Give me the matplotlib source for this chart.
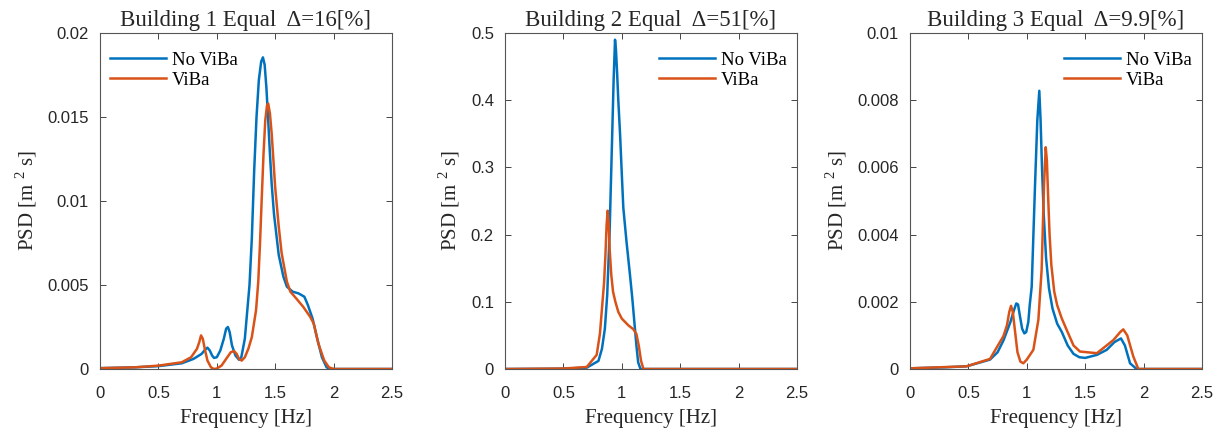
import matplotlib
matplotlib.use("Agg")
import matplotlib.pyplot as plt

# Building 1
b1_f_noviba = [0.0, 0.3, 0.5, 0.7, 0.8, 0.87, 0.9, 0.92, 0.94, 0.96, 0.976, 1.0, 1.03, 1.06,
               1.08, 1.095, 1.11, 1.13, 1.16, 1.19, 1.21, 1.24, 1.28, 1.30, 1.32, 1.34, 1.36,
               1.38, 1.395, 1.41, 1.425, 1.44, 1.455, 1.47, 1.49, 1.53, 1.57, 1.6, 1.65,
               1.7, 1.75, 1.78, 1.82, 1.86, 1.9, 1.94, 1.97, 2.5]
b1_psd_noviba = [0.00005, 0.0001, 0.00017, 0.00034, 0.0006, 0.0009, 0.00115, 0.00127, 0.0011,
                 0.0008, 0.00066, 0.0007, 0.0011, 0.0018, 0.0024, 0.0025, 0.0022, 0.0014,
                 0.0008, 0.00055, 0.0007, 0.0018, 0.005, 0.0078, 0.0118, 0.015, 0.0172,
                 0.0183, 0.01855, 0.0181, 0.0167, 0.0148, 0.0128, 0.011, 0.0092, 0.0068,
                 0.0055, 0.0049, 0.0046, 0.0045, 0.0043, 0.0038, 0.003, 0.0018, 0.0007,
                 0.0001, 0.0, 0.0]
b1_f_viba = [0.0, 0.3, 0.5, 0.7, 0.78, 0.83, 0.85, 0.865, 0.88, 0.9, 0.92, 0.95, 0.976, 1.0,
             1.04, 1.08, 1.12, 1.147, 1.17, 1.19, 1.213, 1.24, 1.27, 1.3, 1.336, 1.355, 1.37,
             1.385, 1.40, 1.415, 1.43, 1.44, 1.455, 1.47, 1.485, 1.50, 1.53, 1.555, 1.6,
             1.63, 1.68, 1.74, 1.8, 1.83, 1.87, 1.92, 1.96, 2.0, 2.5]
b1_psd_viba = [0.00005, 0.0001, 0.0002, 0.0004, 0.0007, 0.0012, 0.0016, 0.002, 0.0018, 0.0011,
               0.0005, 0.0001, 0.0, 0.00003, 0.0002, 0.0006, 0.001, 0.00107, 0.0009, 0.0006,
               0.0005, 0.0007, 0.0012, 0.0019, 0.0035, 0.0052, 0.0075, 0.0102, 0.0128,
               0.0148, 0.0157, 0.0158, 0.0152, 0.014, 0.0124, 0.0108, 0.0085, 0.0069,
               0.0052, 0.0046, 0.0042, 0.0037, 0.0031, 0.0027, 0.0015, 0.0005, 0.0001, 0.0,
               0.0]

# Building 2
b2_f_noviba = [0.0, 0.5, 0.7, 0.8, 0.83, 0.855, 0.875, 0.895, 0.915, 0.93, 0.942, 0.95, 0.96,
               0.97, 0.985, 1.0, 1.013, 1.04, 1.07, 1.09, 1.11, 1.125, 1.14, 1.16, 2.5]
b2_psd_noviba = [0.0, 0.0005, 0.002, 0.012, 0.03, 0.06, 0.11, 0.2, 0.33, 0.43, 0.49, 0.475,
                 0.44, 0.40, 0.35, 0.29, 0.24, 0.19, 0.14, 0.105, 0.065, 0.035, 0.01, 0.0,
                 0.0]
b2_f_viba = [0.0, 0.5, 0.7, 0.785, 0.813, 0.848, 0.86, 0.87, 0.879, 0.888, 0.897, 0.91, 0.925,
             0.945, 0.97, 1.0, 1.056, 1.1, 1.125, 1.145, 1.165, 1.185, 2.5]
b2_psd_viba = [0.0, 0.0007, 0.003, 0.021, 0.053, 0.128, 0.17, 0.215, 0.2356, 0.215, 0.175,
               0.14, 0.115, 0.1, 0.085, 0.075, 0.065, 0.059, 0.052, 0.035, 0.012, 0.0, 0.0]

# Building 3
b3_f_noviba = [0.0, 0.3, 0.485, 0.685, 0.75, 0.8, 0.86, 0.89, 0.91, 0.925, 0.94, 0.96, 0.979,
               0.995, 1.013, 1.025, 1.042, 1.07, 1.09, 1.107, 1.118, 1.13, 1.145, 1.165, 1.19,
               1.22, 1.26, 1.3, 1.35, 1.4, 1.45, 1.5, 1.6, 1.684, 1.75, 1.806, 1.84, 1.884,
               1.94, 2.5]
b3_psd_noviba = [0.00002, 0.00005, 0.00008, 0.00028, 0.0005, 0.00085, 0.0014, 0.00175,
                 0.00195, 0.00192, 0.0016, 0.0012, 0.00106, 0.0011, 0.0014, 0.0019, 0.00245,
                 0.00543, 0.0074, 0.00828, 0.0074, 0.006, 0.0046, 0.0033, 0.0024, 0.0018,
                 0.00135, 0.0011, 0.0007, 0.00045, 0.00035, 0.00033, 0.00042, 0.00057,
                 0.0008, 0.00091, 0.0007, 0.00017, 0.0, 0.0]
b3_f_viba = [0.0, 0.485, 0.685, 0.8, 0.83, 0.85, 0.865, 0.88, 0.9, 0.92, 0.945, 0.97, 1.0,
             1.056, 1.099, 1.127, 1.147, 1.162, 1.172, 1.182, 1.195, 1.21, 1.235, 1.26, 1.3,
             1.342, 1.4, 1.455, 1.6, 1.741, 1.8, 1.826, 1.86, 1.912, 1.955, 2.5]
b3_psd_viba = [0.00002, 0.00008, 0.0003, 0.00098, 0.0013, 0.0017, 0.00188, 0.0017, 0.0011,
               0.0005, 0.00022, 0.00017, 0.00028, 0.00057, 0.00146, 0.00295, 0.00543,
               0.0066, 0.0062, 0.0052, 0.004, 0.0031, 0.0023, 0.0019, 0.0015, 0.00116,
               0.0007, 0.00052, 0.00047, 0.00086, 0.0011, 0.00118, 0.001, 0.00037, 0.0,
               0.0]

titles = ["Building 1 Equal  \u0394=16[%]", "Building 2 Equal  \u0394=51[%]",
          "Building 3 Equal  \u0394=9.9[%]"]
y_max = [0.02, 0.5, 0.01]
y_ticks = [[0, 0.005, 0.01, 0.015, 0.02],
           [0, 0.1, 0.2, 0.3, 0.4, 0.5],
           [0, 0.002, 0.004, 0.006, 0.008, 0.01]]
y_ticklabels = [["0", "0.005", "0.01", "0.015", "0.02"],
                ["0", "0.1", "0.2", "0.3", "0.4", "0.5"],
                ["0", "0.002", "0.004", "0.006", "0.008", "0.01"]]
x_ticks = [0, 0.5, 1, 1.5, 2, 2.5]
x_ticklabels = ["0", "0.5", "1", "1.5", "2", "2.5"]
legend_loc = ["upper left", "upper right", "upper right"]
legend_anchor = [(0.009, 0.966), (0.991, 0.966), (0.991, 0.966)]

series = [
    (b1_f_noviba, b1_psd_noviba, b1_f_viba, b1_psd_viba),
    (b2_f_noviba, b2_psd_noviba, b2_f_viba, b2_psd_viba),
    (b3_f_noviba, b3_psd_noviba, b3_f_viba, b3_psd_viba),
]

BLUE = "#0072BD"
ORANGE = "#D95319"
SERIF = "Liberation Serif"
SANS = "Liberation Sans"
AX_COLOR = "#262626"

fig = plt.figure(figsize=(12.25, 4.37), dpi=100)
lefts = [100 / 1225, 505 / 1225, 910 / 1225]

for i in range(3):
    ax = fig.add_axes([lefts[i], 68 / 437, 292 / 1225, 336 / 437])
    f0, p0, f1, p1 = series[i]
    ax.plot(f0, p0, color=BLUE, lw=1.8, label="No ViBa")
    ax.plot(f1, p1, color=ORANGE, lw=1.8, label="ViBa")
    ax.set_xlim(0, 2.5)
    ax.set_ylim(0, y_max[i])
    ax.set_xticks(x_ticks)
    ax.set_xticklabels(x_ticklabels, family=SANS, fontsize=12, color=AX_COLOR)
    ax.set_yticks(y_ticks[i])
    ax.set_yticklabels(y_ticklabels[i], family=SANS, fontsize=12, color=AX_COLOR)
    ax.tick_params(direction="in", top=True, right=True, length=4, width=0.6,
                   color=AX_COLOR)
    ax.tick_params(axis="x", pad=12)
    ax.tick_params(axis="y", pad=8)
    for sp in ax.spines.values():
        sp.set_color("#555555")
        sp.set_linewidth(0.8)
    ax.set_title(titles[i], family=SERIF, fontsize=16.5, color=AX_COLOR, pad=5)
    ax.set_xlabel("Frequency [Hz]", family=SERIF, fontsize=15, color=AX_COLOR, labelpad=6)
    ax.set_ylabel("PSD [m $^\\mathregular{2}$ s]", family=SERIF, fontsize=15,
                  color=AX_COLOR, labelpad=6)
    ax.legend(loc=legend_loc[i], bbox_to_anchor=legend_anchor[i], frameon=False,
              prop={"family": SERIF, "size": 13.5}, handlelength=3.0,
              handletextpad=0.3, labelspacing=0.15, borderaxespad=0.0)

fig.savefig("out.png", dpi=100)
